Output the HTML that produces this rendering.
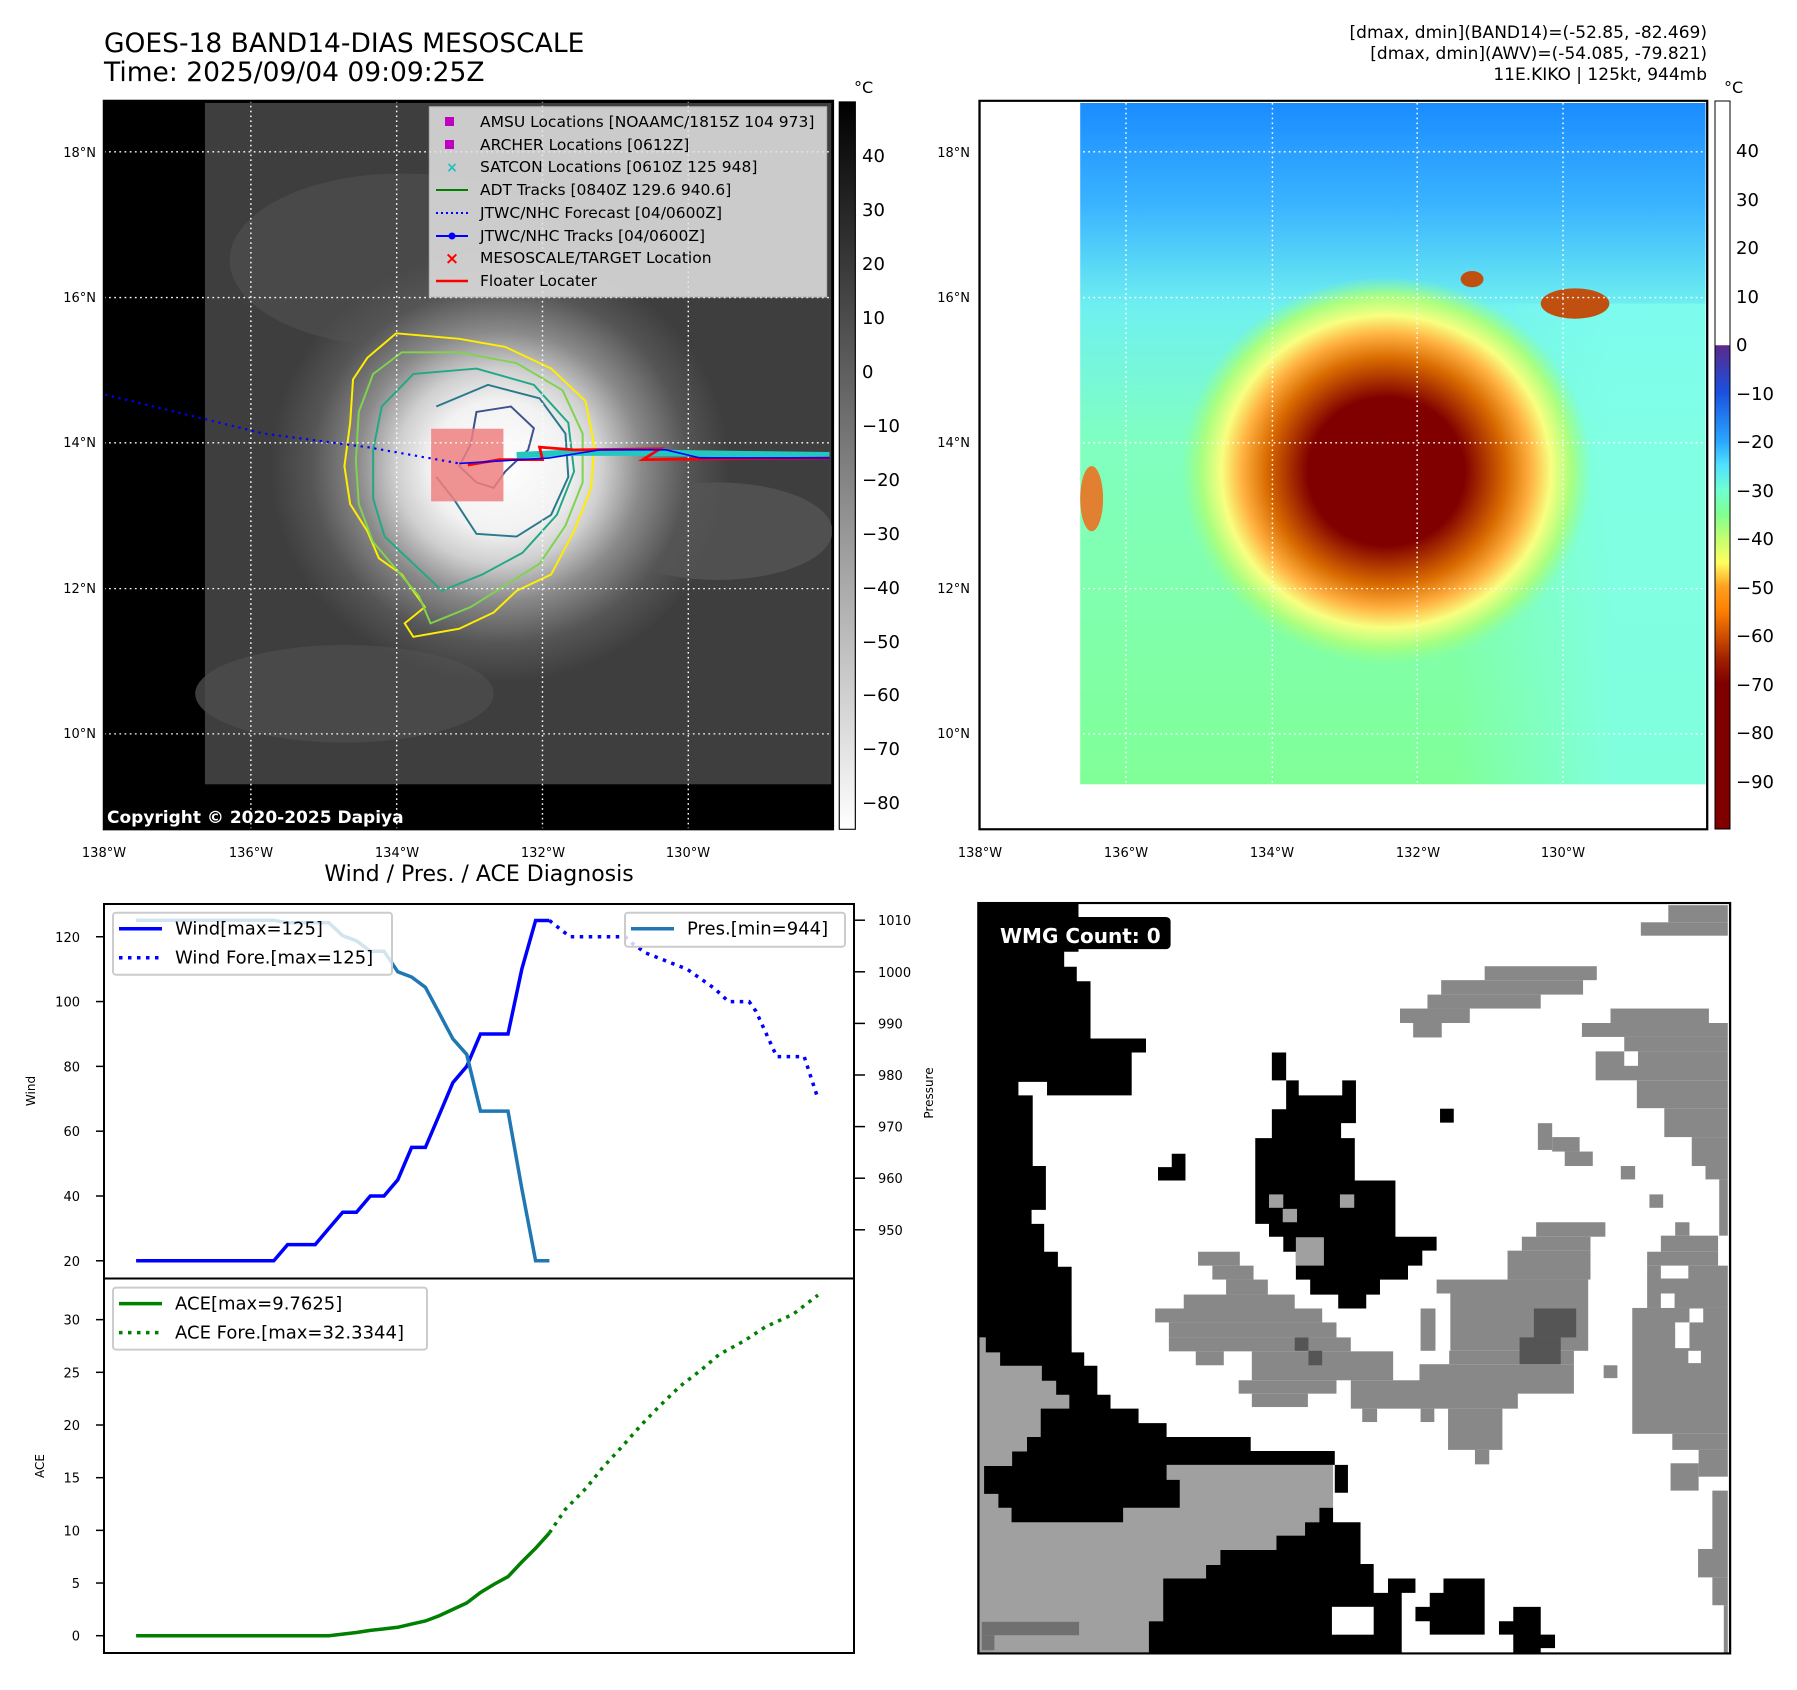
<!DOCTYPE html>
<html><head><meta charset="utf-8"><style>
html,body{margin:0;padding:0;background:#fff;}
svg{display:block;font-family:"DejaVu Sans","Liberation Sans",sans-serif;}
</style></head><body>
<svg id="root" width="1797" height="1690" viewBox="0 0 1797 1690" xmlns="http://www.w3.org/2000/svg">
<defs>
<linearGradient id="gcbL" x1="0" y1="0" x2="0" y2="1"><stop offset="0" stop-color="#000"/><stop offset="1" stop-color="#fff"/></linearGradient>
<linearGradient id="gcbR" x1="0" y1="101" x2="0" y2="829" gradientUnits="userSpaceOnUse">
<stop offset="0" stop-color="#fff"/><stop offset="0.335" stop-color="#fff"/>
<stop offset="0.336" stop-color="#5a2a8a"/><stop offset="0.40" stop-color="#1a50e0"/>
<stop offset="0.468" stop-color="#2aa8ff"/><stop offset="0.50" stop-color="#50e0ff"/>
<stop offset="0.535" stop-color="#70ffd0"/><stop offset="0.568" stop-color="#80ff90"/>
<stop offset="0.60" stop-color="#c0ff70"/><stop offset="0.634" stop-color="#ffff60"/>
<stop offset="0.667" stop-color="#ffa020"/><stop offset="0.70" stop-color="#ff8000"/>
<stop offset="0.734" stop-color="#d05000"/><stop offset="0.767" stop-color="#a02000"/>
<stop offset="0.80" stop-color="#800000"/><stop offset="1" stop-color="#800000"/></linearGradient>
<radialGradient id="gStormL" cx="870" cy="860" r="400" gradientUnits="userSpaceOnUse">
<stop offset="0" stop-color="#fff"/><stop offset="0.3" stop-color="#f2f2f2"/><stop offset="0.45" stop-color="#cfcfcf"/>
<stop offset="0.62" stop-color="#8a8a8a"/><stop offset="0.82" stop-color="#555"/><stop offset="1" stop-color="#555" stop-opacity="0"/></radialGradient>
<linearGradient id="gBgR" x1="0" y1="190" x2="0" y2="1447" gradientUnits="userSpaceOnUse">
<stop offset="0" stop-color="#1a8cff"/><stop offset="0.15" stop-color="#3ab4ff"/><stop offset="0.3" stop-color="#6ff0f0"/>
<stop offset="0.5" stop-color="#80ffc0"/><stop offset="1" stop-color="#80ff98"/></linearGradient>
<linearGradient id="gCyanR" x1="315" y1="0" x2="1408" y2="0" gradientUnits="userSpaceOnUse">
<stop offset="0" stop-color="#80ffee" stop-opacity="0"/><stop offset="0.6" stop-color="#80ffee" stop-opacity="0"/><stop offset="0.85" stop-color="#80ffee" stop-opacity="0.8"/><stop offset="1" stop-color="#80ffee" stop-opacity="0.8"/></linearGradient>
<radialGradient id="gStormR" cx="850" cy="870" r="360" gradientUnits="userSpaceOnUse">
<stop offset="0" stop-color="#800000"/><stop offset="0.38" stop-color="#800000"/><stop offset="0.47" stop-color="#a83000"/>
<stop offset="0.58" stop-color="#d86a00"/><stop offset="0.7" stop-color="#ffb040"/><stop offset="0.8" stop-color="#f8ff80"/>
<stop offset="0.9" stop-color="#a8ff80"/><stop offset="1" stop-color="#90ff90" stop-opacity="0"/></radialGradient>
</defs>

<!-- Titles -->
<text x="104" y="52" font-size="26.5">GOES-18 BAND14-DIAS MESOSCALE</text>
<text x="104" y="81" font-size="26.5">Time: 2025/09/04 09:09:25Z</text>
<g font-size="17" text-anchor="end">
<text x="1707" y="38">[dmax, dmin](BAND14)=(-52.85, -82.469)</text>
<text x="1707" y="59">[dmax, dmin](AWV)=(-54.085, -79.821)</text>
<text x="1707" y="80">11E.KIKO | 125kt, 944mb</text>
</g>

<!-- LEFT MAP -->
<g>
<g transform="scale(0.57405,0.54201)">
<rect x="181" y="186" width="1270" height="1344" fill="#000"/>
<rect x="357" y="190" width="1091" height="1257" fill="#3e3e3e"/>
<ellipse cx="700" cy="480" rx="300" ry="160" fill="#4c4c4c" opacity="0.8"/>
<ellipse cx="1250" cy="980" rx="200" ry="90" fill="#555" opacity="0.8"/>
<ellipse cx="600" cy="1280" rx="260" ry="90" fill="#4c4c4c" opacity="0.8"/>
<ellipse cx="870" cy="870" rx="420" ry="440" fill="url(#gStormL)"/>
<g fill="none" stroke-width="3.5">
<path d="M690,615 L800,625 L880,640 L960,680 L1020,740 L1035,820 L1030,900 L1000,980 L960,1060 L900,1090 L860,1130 L800,1160 L720,1175 L705,1150 L740,1120 L700,1060 L660,1030 L640,980 L610,930 L600,860 L610,780 L615,700 L640,660 Z" stroke="#ffee00"/>
<path d="M700,650 L800,650 L900,670 L980,720 L1015,800 L1015,890 L985,970 L940,1040 L880,1080 L820,1120 L750,1150 L730,1100 L690,1050 L650,1000 L625,930 L620,850 L625,760 L650,690 Z" stroke="#7fd34e"/>
<path d="M720,690 L830,680 L930,710 L990,780 L1000,870 L970,950 L910,1020 L840,1060 L770,1090 L720,1040 L670,990 L650,920 L650,830 L665,750 Z" stroke="#22a884"/>
<path d="M760,750 L850,710 L940,735 L985,800 L990,880 L960,950 L900,990 L830,985 L790,920 L760,880" stroke="#2a788e"/>
<path d="M830,760 L890,750 L930,790 L920,830 L880,870 L860,900 L830,890 L800,860 L820,820 Z" stroke="#3b528b"/>
</g>
<rect x="751" y="791" width="126" height="134" fill="#f08080" opacity="0.85"/>
<g stroke="#fff" stroke-width="2.5" stroke-dasharray="3,6" fill="none">
<line x1="437" y1="186" x2="437" y2="1530"/><line x1="691" y1="186" x2="691" y2="1530"/><line x1="945" y1="186" x2="945" y2="1530"/><line x1="1199" y1="186" x2="1199" y2="1530"/>
<line x1="181" y1="280" x2="1451" y2="280"/><line x1="181" y1="549" x2="1451" y2="549"/><line x1="181" y1="817" x2="1451" y2="817"/><line x1="181" y1="1086" x2="1451" y2="1086"/><line x1="181" y1="1354" x2="1451" y2="1354"/>
</g>
<polyline points="183,728 460,800 640,825 800,855" fill="none" stroke="#0000ff" stroke-width="4" stroke-dasharray="4,8"/>
<polyline points="900,840 1000,835 1100,835 1300,838 1445,840" fill="none" stroke="#22c8c0" stroke-width="12"/>
<polyline points="815,858 870,848 945,848 940,825 1000,830 1150,828 1120,848 1445,845" fill="none" stroke="#ff0000" stroke-width="5"/>
<polyline points="800,855 957,845 1045,830 1160,830 1220,845 1445,845" fill="none" stroke="#0000ff" stroke-width="3"/>
<rect x="748" y="197" width="692" height="351" fill="#e4e4e4" opacity="0.85" stroke="#ccc" stroke-width="2"/>
<rect x="1462" y="188" width="28" height="1342" fill="url(#gcbL)" stroke="#000" stroke-width="2"/>
<rect x="181" y="186" width="1270" height="1344" fill="none" stroke="#000" stroke-width="4"/>
</g>
<rect x="445" y="117" width="9" height="9" fill="#c000c0"/>
<rect x="445" y="140" width="9" height="9" fill="#c000c0"/>
<text x="452" y="172" font-size="14" fill="#20c0c0" text-anchor="middle" font-weight="bold">×</text>
<line x1="436" y1="190" x2="468" y2="190" stroke="#008000" stroke-width="2"/>
<line x1="436" y1="213" x2="468" y2="213" stroke="#0000ff" stroke-width="2" stroke-dasharray="2,3"/>
<line x1="436" y1="236" x2="468" y2="236" stroke="#0000ff" stroke-width="2"/><circle cx="452" cy="236" r="3.5" fill="#0000ff"/>
<text x="452" y="264" font-size="17" fill="#ff0000" text-anchor="middle" font-weight="bold">×</text>
<line x1="436" y1="281" x2="468" y2="281" stroke="#ff0000" stroke-width="2.5"/>
<g font-size="15.5">
<text x="480" y="127">AMSU Locations [NOAAMC/1815Z 104 973]</text>
<text x="480" y="150">ARCHER Locations [0612Z]</text>
<text x="480" y="172">SATCON Locations [0610Z 125 948]</text>
<text x="480" y="195">ADT Tracks [0840Z 129.6 940.6]</text>
<text x="480" y="218">JTWC/NHC Forecast [04/0600Z]</text>
<text x="480" y="241">JTWC/NHC Tracks [04/0600Z]</text>
<text x="480" y="263">MESOSCALE/TARGET Location</text>
<text x="480" y="286">Floater Locater</text>
</g>
<text x="107" y="823" font-size="17" font-weight="bold" fill="#fff">Copyright © 2020-2025 Dapiya</text>
</g>
<g font-size="13" text-anchor="end">
<text x="96" y="157">18°N</text><text x="96" y="302">16°N</text><text x="96" y="447">14°N</text><text x="96" y="593">12°N</text><text x="96" y="738">10°N</text>
</g>
<g font-size="13" text-anchor="middle">
<text x="104" y="857">138°W</text><text x="251" y="857">136°W</text><text x="397" y="857">134°W</text><text x="543" y="857">132°W</text><text x="688" y="857">130°W</text>
</g>
<g font-size="18">
<text x="854" y="93" font-size="16">°C</text>
<text x="862" y="162">40</text><text x="862" y="216">30</text><text x="862" y="270">20</text><text x="862" y="324">10</text><text x="862" y="378">0</text>
<text x="862" y="432">−10</text><text x="862" y="486">−20</text><text x="862" y="540">−30</text><text x="862" y="594">−40</text><text x="862" y="648">−50</text>
<text x="862" y="701">−60</text><text x="862" y="755">−70</text><text x="862" y="809">−80</text>
</g>

<!-- RIGHT MAP -->
<g>
<g transform="translate(900,0) scale(0.57208,0.54201)">
<rect x="139" y="186" width="1272" height="1344" fill="#fff"/>
<rect x="315" y="190" width="1093" height="1257" fill="url(#gBgR)"/>
<rect x="315" y="560" width="1093" height="887" fill="url(#gCyanR)"/>
<ellipse cx="850" cy="870" rx="360" ry="380" fill="url(#gStormR)"/>
<ellipse cx="1180" cy="560" rx="60" ry="28" fill="#c05010"/>
<ellipse cx="1000" cy="515" rx="20" ry="15" fill="#c05010"/>
<ellipse cx="335" cy="920" rx="20" ry="60" fill="#e08030"/>
<g stroke="#fff" stroke-width="2.5" stroke-dasharray="3,6" fill="none">
<line x1="395" y1="190" x2="395" y2="1447"/><line x1="651" y1="190" x2="651" y2="1447"/><line x1="904" y1="190" x2="904" y2="1447"/><line x1="1159" y1="190" x2="1159" y2="1447"/>
<line x1="320" y1="280" x2="1408" y2="280"/><line x1="320" y1="549" x2="1408" y2="549"/><line x1="320" y1="817" x2="1408" y2="817"/><line x1="320" y1="1086" x2="1408" y2="1086"/><line x1="320" y1="1354" x2="1408" y2="1354"/>
</g>
<rect x="139" y="186" width="1272" height="1344" fill="none" stroke="#000" stroke-width="4"/>
</g>
<rect x="1715" y="101" width="15" height="728" fill="url(#gcbR)" stroke="#000" stroke-width="1"/>
</g>
<g font-size="13" text-anchor="end">
<text x="970" y="157">18°N</text><text x="970" y="302">16°N</text><text x="970" y="447">14°N</text><text x="970" y="593">12°N</text><text x="970" y="738">10°N</text>
</g>
<g font-size="13" text-anchor="middle">
<text x="980" y="857">138°W</text><text x="1126" y="857">136°W</text><text x="1272" y="857">134°W</text><text x="1418" y="857">132°W</text><text x="1563" y="857">130°W</text>
</g>
<g font-size="18">
<text x="1724" y="93" font-size="16">°C</text>
<text x="1736" y="157">40</text><text x="1736" y="206">30</text><text x="1736" y="254">20</text><text x="1736" y="303">10</text><text x="1736" y="351">0</text>
<text x="1736" y="400">−10</text><text x="1736" y="448">−20</text><text x="1736" y="497">−30</text><text x="1736" y="545">−40</text><text x="1736" y="594">−50</text>
<text x="1736" y="642">−60</text><text x="1736" y="691">−70</text><text x="1736" y="739">−80</text><text x="1736" y="788">−90</text>
</g>

<!-- WMG PANEL -->
<g>
<g transform="translate(900,850) scale(0.57208,0.53562)">
<rect x="137" y="99" width="1314" height="1401" fill="#fff"/>
<polygon fill="#a0a0a0" points="137,910 300,910 300,1148 757,1148 757,1228 733,1228 733,1255 708,1255 708,1280 658,1280 658,1307 560,1307 560,1335 535,1335 535,1360 460,1360 460,1440 435,1440 435,1500 137,1500"/>
<rect x="143" y="1441" width="170" height="25" fill="#707070"/><rect x="143" y="1466" width="22" height="28" fill="#707070"/>
<g fill="#000">
<polygon points="137,99 312,99 312,190 287,190 287,218 309,218 309,245 333,245 333,352 430,352 430,378 405,378 405,458 257,458 257,433 207,433 207,458 232,458 232,590 255,590 255,672 230,672 230,698 252,698 252,750 276,750 276,778 300,778 300,938 322,938 322,963 345,963 345,1017 368,1017 368,1043 417,1043 417,1070 466,1070 466,1096 613,1096 613,1122 760,1122 760,1148 466,1148 466,1176 489,1176 489,1228 390,1228 390,1255 195,1255 195,1228 172,1228 172,1202 147,1202 147,1150 196,1150 196,1123 222,1123 222,1096 246,1096 246,1043 296,1043 296,1017 273,1017 273,991 248,991 248,963 175,963 175,938 150,938 150,910 137,910"/>
<polygon points="435,1500 435,1440 460,1440 460,1360 535,1360 535,1335 560,1335 560,1307 658,1307 658,1280 708,1280 708,1255 733,1255 733,1228 757,1228 757,1255 805,1255 805,1333 828,1333 828,1387 853,1387 853,1360 901,1360 901,1387 877,1387 877,1500"/>
<rect x="760" y="1148" width="23" height="52"/>
<polygon points="926,1387 950,1387 950,1360 1022,1360 1022,1465 926,1465 926,1440 901,1440 901,1413 926,1413"/>
<polygon points="1072,1413 1120,1413 1120,1465 1145,1465 1145,1490 1120,1490 1120,1500 1072,1500 1072,1465 1047,1465 1047,1440 1072,1440"/>
<polygon points="650,378 675,378 675,430 697,430 697,458 773,458 773,430 797,430 797,510 771,510 771,538 795,538 795,617 866,617 866,722 938,722 938,748 913,748 913,776 888,776 888,802 839,802 839,830 815,830 815,856 766,856 766,830 717,830 717,802 692,802 692,750 670,750 670,722 645,722 645,698 621,698 621,538 650,538 650,484 675,484 675,430 650,430"/>
<polygon points="475,567 499,567 499,617 451,617 451,592 475,592"/>
<rect x="944" y="483" width="24" height="26"/>
</g>
<rect x="755" y="1413" width="73" height="52" fill="#fff"/>
<g fill="#a0a0a0"><rect x="645" y="643" width="25" height="25"/><rect x="669" y="670" width="25" height="25"/><rect x="769" y="643" width="25" height="25"/><rect x="692" y="723" width="49" height="53"/></g>
<g fill="#888">
<rect x="1295" y="135" width="152" height="25"/><rect x="1343" y="103" width="104" height="32"/>
<rect x="1022" y="217" width="196" height="26"/><rect x="946" y="243" width="248" height="27"/><rect x="922" y="270" width="198" height="26"/><rect x="874" y="296" width="122" height="27"/><rect x="897" y="323" width="50" height="27"/>
<rect x="1242" y="296" width="172" height="27"/><rect x="1192" y="323" width="255" height="26"/><rect x="1266" y="349" width="181" height="27"/><rect x="1216" y="376" width="231" height="54"/><rect x="1288" y="430" width="159" height="52"/><rect x="1336" y="482" width="111" height="54"/><rect x="1384" y="536" width="63" height="54"/><rect x="1408" y="590" width="39" height="25"/><rect x="1432" y="615" width="15" height="105"/>
<rect x="1115" y="510" width="25" height="50"/><rect x="1140" y="536" width="48" height="27"/><rect x="1162" y="563" width="49" height="27"/><rect x="1260" y="590" width="25" height="25"/><rect x="1310" y="643" width="24" height="25"/>
<rect x="1112" y="695" width="121" height="27"/><rect x="1087" y="722" width="120" height="26"/><rect x="1062" y="748" width="145" height="54"/><rect x="938" y="802" width="265" height="26"/><rect x="962" y="828" width="241" height="107"/><rect x="910" y="856" width="26" height="79"/><rect x="960" y="935" width="218" height="25"/><rect x="908" y="960" width="270" height="55"/><rect x="788" y="990" width="292" height="53"/><rect x="958" y="1043" width="95" height="77"/><rect x="1005" y="1120" width="25" height="27"/><rect x="910" y="1043" width="24" height="25"/><rect x="808" y="1043" width="26" height="25"/><rect x="1230" y="962" width="24" height="24"/>
<rect x="1355" y="695" width="25" height="25"/><rect x="1330" y="720" width="100" height="30"/><rect x="1306" y="750" width="124" height="26"/><rect x="1306" y="776" width="141" height="79"/><rect x="1280" y="855" width="167" height="235"/><rect x="1350" y="1090" width="97" height="30"/><rect x="1396" y="1120" width="51" height="50"/><rect x="1347" y="1145" width="49" height="51"/><rect x="1420" y="1196" width="27" height="109"/><rect x="1395" y="1305" width="52" height="53"/><rect x="1420" y="1358" width="27" height="52"/><rect x="1440" y="1410" width="7" height="90"/>
<rect x="521" y="750" width="73" height="26"/><rect x="546" y="776" width="72" height="26"/><rect x="570" y="802" width="73" height="28"/><rect x="496" y="830" width="194" height="26"/><rect x="446" y="856" width="292" height="26"/><rect x="470" y="882" width="293" height="28"/><rect x="470" y="910" width="318" height="26"/><rect x="517" y="936" width="49" height="26"/><rect x="615" y="936" width="247" height="54"/><rect x="592" y="990" width="171" height="25"/><rect x="615" y="1015" width="98" height="25"/>
</g>
<g fill="#fff"><rect x="1266" y="376" width="24" height="27"/><rect x="1330" y="776" width="48" height="24"/><rect x="1330" y="828" width="24" height="27"/><rect x="1380" y="856" width="24" height="26"/><rect x="1355" y="882" width="25" height="48"/><rect x="1378" y="935" width="22" height="23"/></g>
<g fill="#555"><rect x="1108" y="856" width="74" height="54"/><rect x="1083" y="910" width="72" height="50"/><rect x="690" y="910" width="24" height="25"/><rect x="714" y="935" width="24" height="27"/></g>
<rect x="160" y="125" width="313" height="60" rx="8" fill="#000"/>
<rect x="137" y="99" width="1314" height="1401" fill="none" stroke="#000" stroke-width="4"/>
</g>
<text x="1000" y="943" font-size="20" font-weight="bold" fill="#fff">WMG Count: 0</text>
</g>
<text x="933" y="1093" font-size="12" transform="rotate(-90 933 1093)" text-anchor="middle">Pressure</text>

<!-- DIAGNOSIS CHART -->
<text x="479" y="881" font-size="22" text-anchor="middle">Wind / Pres. / ACE Diagnosis</text>
<g id="chart"></g>
</svg>
<script>
// observed data (6-hourly index -> hours)
const obsHours = [0,6,12,18,24,30,36,42,48,54,60,66,72,78,84,90,96,102,108,114,120,126,132,138,144,150,156,162,168,174,180];
const windObs = [20,20,20,20,20,20,20,20,20,20,20,25,25,25,30,35,35,40,40,45,55,55,65,75,80,90,90,90,110,125,125];
const presObs = [1010,1010,1010,1010,1010,1010,1010,1010,1010,1010,1010,1009.5,1009.5,1009.5,1009.5,1007,1006,1004,1004,1000,999,997,992,987,984,973,973,973,958,944,944];
const aceObs = [0,0,0,0,0,0,0,0,0,0,0,0,0,0,0,0.15,0.3,0.5,0.65,0.8,1.1,1.4,1.9,2.5,3.1,4.1,4.9,5.6,7.0,8.3,9.7625];
const windForeHours = [180,189,195,213,216,222,240,252,258,267,270,279,291,297];
const windFore = [125,120,120,120,118,115,110,104,100,100,97,83,83,70];
const aceForeHours = [180,187,196,203,211,220,228,237,246,254,265,274,286,297];
const aceFore = [9.7625,12,14,15.9,17.8,20,21.8,23.7,25.2,26.7,28,29.3,30.5,32.3344];
const windTicks = [20,40,60,80,100,120];
const presTicks = [950,960,970,980,990,1000,1010];
const aceTicks = [0,5,10,15,20,25,30];

const NS='http://www.w3.org/2000/svg';
const chart=document.getElementById('chart');
function X(h){return (237+4*h)/1.742;}
function YW(v){return 1260.8-(v-20)*3.2405;}
function YP(p){return 920.2+(1010-p)*5.16;}
function YA(v){return 1635.7-v*10.535;}
function mk(tag,attrs,parent){const e=document.createElementNS(NS,tag);for(const k in attrs)e.setAttribute(k,attrs[k]);(parent||chart).appendChild(e);return e;}
function pts(xs,ys,fy){return xs.map((h,i)=>X(h).toFixed(1)+','+fy(ys[i]).toFixed(1)).join(' ');}

let p;
p=mk('polyline',{points:pts(obsHours,windObs,YW),fill:'none',stroke:'#0000ff','stroke-width':3.5});


p=mk('polyline',{points:pts(windForeHours,windFore,YW),fill:'none',stroke:'#0000ff','stroke-width':3.5,'stroke-dasharray':'3.5,5.5'});


p=mk('polyline',{points:pts(obsHours,presObs,YP),fill:'none',stroke:'#1f77b4','stroke-width':3.5});


p=mk('polyline',{points:pts(obsHours,aceObs,YA),fill:'none',stroke:'#008000','stroke-width':3.5});


p=mk('polyline',{points:pts(aceForeHours,aceFore,YA),fill:'none',stroke:'#008000','stroke-width':3.5,'stroke-dasharray':'3.5,5.5'});



// frames
mk('rect',{x:104,y:904,width:750,height:374.5,fill:'none',stroke:'#000','stroke-width':2});
mk('rect',{x:104,y:1278.5,width:750,height:374.5,fill:'none',stroke:'#000','stroke-width':2});

// ticks
windTicks.forEach(v=>{const y=YW(v);mk('line',{x1:96,y1:y,x2:104,y2:y,stroke:'#000','stroke-width':1.5});
 const t=mk('text',{x:80,y:y+5,'font-size':13,'text-anchor':'end'});t.textContent=v;
 
 });
presTicks.forEach(v=>{const y=YP(v);mk('line',{x1:854,y1:y,x2:865,y2:y,stroke:'#000','stroke-width':1.5});
 const t=mk('text',{x:878,y:y+5,'font-size':13});t.textContent=v;
 
 });
aceTicks.forEach(v=>{const y=YA(v);mk('line',{x1:96,y1:y,x2:104,y2:y,stroke:'#000','stroke-width':1.5});
 const t=mk('text',{x:80,y:y+5,'font-size':13,'text-anchor':'end'});t.textContent=v;
 
 });

let t=mk('text',{x:35,y:1091,'font-size':12,'text-anchor':'middle',transform:'rotate(-90 35 1091)'});t.textContent='Wind';


t=mk('text',{x:44,y:1466,'font-size':12,'text-anchor':'middle',transform:'rotate(-90 44 1466)'});t.textContent='ACE';



// legends
function legend(name,x,y,w,h,items){
 const g=mk('g',{});
 
 
 mk('rect',{x:x,y:y,width:w,height:h,rx:3,fill:'#fff','fill-opacity':0.8,stroke:'#ccc','stroke-width':2},g);
 items.forEach((it,i)=>{const ly=y+16+i*29;
  mk('line',{x1:x+6,y1:ly,x2:x+49,y2:ly,stroke:it.c,'stroke-width':3.5,'stroke-dasharray':it.d?'3.5,5.5':'none'},g);
  const tt=mk('text',{x:x+62,y:ly+6,'font-size':18},g);tt.textContent=it.t;});
}
legend('wind-legend',113,912.7,279,62,[{c:'#0000ff',t:'Wind[max=125]'},{c:'#0000ff',d:1,t:'Wind Fore.[max=125]'}]);
legend('pressure-legend',625,912.7,220,34,[{c:'#1f77b4',t:'Pres.[min=944]'}]);
legend('ace-legend',113,1287.6,314,62,[{c:'#008000',t:'ACE[max=9.7625]'},{c:'#008000',d:1,t:'ACE Fore.[max=32.3344]'}]);
</script>
</body></html>
